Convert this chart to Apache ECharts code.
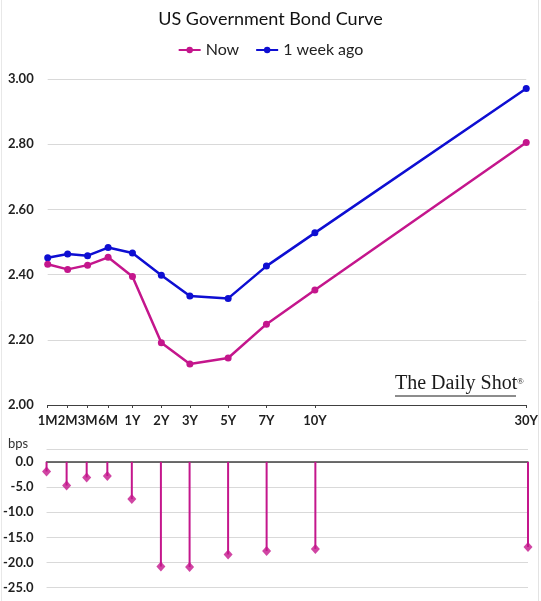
<!DOCTYPE html>
<html>
<head>
<meta charset="utf-8">
<script src="https://cdn.jsdelivr.net/npm/echarts@6/dist/echarts.min.js"></script>
<style>
  html, body { margin: 0; padding: 0; background: #fff; }
  #main { width: 541px; height: 601px; }
</style>
</head>
<body>
<div id="main"></div>
<script>
// tenors and where they sit along the bottom axis (uneven spacing, as in the original)
var tenors = ['1M', '2M', '3M', '6M', '1Y', '2Y', '3Y', '5Y', '7Y', '10Y', '30Y'];
var tenorAxisPos = [0, 1, 2, 3.03, 4.25, 5.7, 7.13, 9.05, 10.97, 13.4, 24];

// yields, %
var nowYield = [2.432, 2.416, 2.429, 2.453, 2.394, 2.191, 2.126, 2.144, 2.248, 2.353, 2.805];
var weekAgoYield = [2.452, 2.463, 2.458, 2.483, 2.466, 2.398, 2.334, 2.327, 2.426, 2.528, 2.971];

// weekly change, bps
var changeBps = [-1.9, -4.7, -3.1, -2.8, -7.4, -20.8, -20.9, -18.4, -17.7, -17.3, -16.9];

var magenta = '#C4168C';
var blue = '#0E0ED2';
var labelFont = 'Lato, "Open Sans", sans-serif';

function pairs(vals) {
  return vals.map(function (v, i) { return [tenorAxisPos[i], v]; });
}
function tenorName(v) {
  var i = tenorAxisPos.indexOf(v);
  return i >= 0 ? tenors[i] : '';
}

var myChart = echarts.init(document.getElementById('main'));

var option = {
  animation: false,
  backgroundColor: '#fff',
  title: {
    text: 'US Government Bond Curve',
    left: 'center',
    top: 5,
    textStyle: { fontFamily: labelFont, fontWeight: 'normal', fontSize: 18, color: '#111' }
  },
  legend: {
    top: 37,
    left: 'center',
    itemWidth: 22,
    itemHeight: 8,
    itemGap: 16,
    textStyle: { fontFamily: labelFont, fontSize: 16, color: '#222' },
    data: ['Now', '1 week ago']
  },
  grid: [
    { left: 47.7, right: 13, top: 79, height: 326 },
    { left: 46, right: 13, top: 449.3, height: 138.4 }
  ],
  xAxis: [{
    gridIndex: 0,
    type: 'value',
    min: 0,
    max: 24,
    splitLine: { show: false },
    axisLine: { lineStyle: { color: '#404040', width: 1.2 } },
    axisTick: { show: true, customValues: tenorAxisPos, length: 3, lineStyle: { color: '#404040' } },
    axisLabel: {
      customValues: tenorAxisPos,
      formatter: tenorName,
      margin: 9,
      fontFamily: labelFont,
      fontWeight: 'bold',
      fontSize: 13,
      color: '#1f1f1f'
    }
  }, {
    gridIndex: 1,
    type: 'value',
    min: 0,
    max: 24,
    splitLine: { show: false },
    axisLine: { onZero: true, lineStyle: { color: '#404040', width: 1.5 } },
    axisTick: { show: false },
    axisLabel: { show: false }
  }],
  yAxis: [{
    gridIndex: 0,
    type: 'value',
    min: 2.0,
    max: 3.0,
    interval: 0.2,
    axisLine: { show: false },
    axisTick: { show: false },
    splitLine: { lineStyle: { color: '#d9d9d9' } },
    axisLabel: {
      margin: 14,
      formatter: function (v) { return v.toFixed(2); },
      fontFamily: labelFont,
      fontWeight: 'bold',
      fontSize: 13,
      color: '#1f1f1f'
    }
  }, {
    gridIndex: 1,
    type: 'value',
    min: -25,
    max: 2.5,
    interval: 5,
    axisLine: { show: false },
    axisTick: { show: false },
    splitLine: { lineStyle: { color: '#d9d9d9' } },
    axisLabel: {
      margin: 13,
      formatter: function (v) { return v > 0 ? '' : v.toFixed(1); },
      fontFamily: labelFont,
      fontWeight: 'bold',
      fontSize: 13,
      color: '#1f1f1f'
    }
  }],
  series: [{
    name: 'Now',
    type: 'line',
    xAxisIndex: 0,
    yAxisIndex: 0,
    data: pairs(nowYield),
    symbol: 'circle',
    symbolSize: 7,
    itemStyle: { color: magenta },
    lineStyle: { color: magenta, width: 2.5 },
    z: 3
  }, {
    name: '1 week ago',
    type: 'line',
    xAxisIndex: 0,
    yAxisIndex: 0,
    data: pairs(weekAgoYield),
    symbol: 'circle',
    symbolSize: 7,
    itemStyle: { color: blue },
    lineStyle: { color: blue, width: 2.5 },
    z: 2
  }, {
    name: 'change stem',
    type: 'bar',
    xAxisIndex: 1,
    yAxisIndex: 1,
    barWidth: 2,
    data: pairs(changeBps),
    itemStyle: { color: magenta }
  }, {
    name: 'change',
    type: 'scatter',
    xAxisIndex: 1,
    yAxisIndex: 1,
    symbol: 'diamond',
    symbolSize: [9, 10],
    data: pairs(changeBps),
    itemStyle: { color: magenta },
    z: 4
  }],
  graphic: [{
    type: 'text',
    left: 8,
    top: 437,
    style: { text: 'bps', fontFamily: labelFont, fontSize: 13, fill: '#333' }
  }, {
    type: 'text',
    left: 395,
    top: 374,
    style: { text: 'The Daily Shot', fontFamily: '"Liberation Serif", serif', fontSize: 20, fill: '#1a1a1a' }
  }, {
    type: 'text',
    left: 517,
    top: 377,
    style: { text: '®', fontFamily: '"Liberation Serif", serif', fontSize: 9, fill: '#1a1a1a' }
  }, {
    type: 'line',
    shape: { x1: 395, y1: 396, x2: 516, y2: 396 },
    style: { stroke: '#1a1a1a', lineWidth: 1 }
  }, {
    type: 'line',
    shape: { x1: 538.5, y1: 0, x2: 538.5, y2: 601 },
    style: { stroke: '#e3e3e3', lineWidth: 1 }
  }, {
    type: 'line',
    shape: { x1: 1.5, y1: 0, x2: 1.5, y2: 601 },
    style: { stroke: '#e8e8e8', lineWidth: 1 }
  }]
};

myChart.setOption(option);
</script>
</body>
</html>
